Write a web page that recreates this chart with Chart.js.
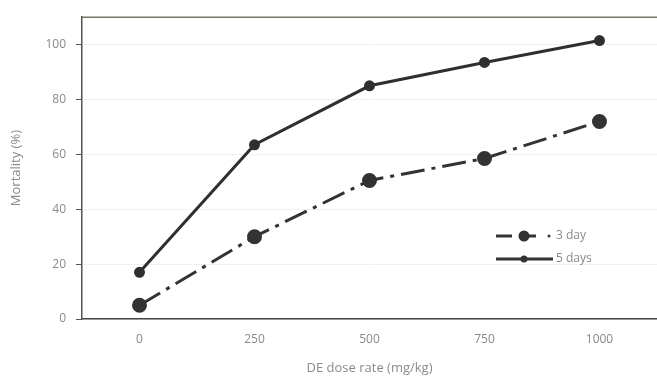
<!DOCTYPE html>
<html>
<head>
<meta charset="utf-8">
<script src="https://cdn.jsdelivr.net/npm/chart.js@4/dist/chart.umd.min.js"></script>
<style>
  html, body { margin: 0; padding: 0; background: #fff; }
  #wrap { width: 657px; height: 385px; }
</style>
</head>
<body>
<div id="wrap"><canvas id="mortChart" width="657" height="385"></canvas></div>
<script>
const doses = ["0", "250", "500", "750", "1000"];
const day3 = [5, 30, 50.5, 58.5, 72];
const day5 = [17, 63.5, 85, 93.5, 101.5];
const yTicks = [0, 20, 40, 60, 80, 100];

// top frame line + legend box drawn inside the plot
const framePlugin = {
  id: "frame",
  afterDraw(chart) {
    const ctx = chart.ctx;
    const a = chart.chartArea;
    ctx.save();
    ctx.strokeStyle = "#6f7a6a";
    ctx.lineWidth = 1.5;
    ctx.beginPath();
    ctx.moveTo(a.left, a.top);
    ctx.lineTo(a.right, a.top);
    ctx.stroke();

    // legend
    const lx = 496, ly = 236;
    ctx.strokeStyle = "#333";
    ctx.fillStyle = "#333";
    ctx.lineWidth = 3;
    ctx.beginPath();
    ctx.moveTo(lx, ly);
    ctx.lineTo(lx + 16, ly);
    ctx.stroke();
    ctx.beginPath();
    ctx.arc(lx + 28, ly, 5.5, 0, Math.PI * 2);
    ctx.fill();
    ctx.beginPath();
    ctx.moveTo(lx + 28, ly);
    ctx.lineTo(lx + 40, ly);
    ctx.stroke();
    ctx.beginPath();
    ctx.arc(lx + 53, ly, 1.5, 0, Math.PI * 2);
    ctx.fill();

    const ly2 = 259;
    ctx.beginPath();
    ctx.moveTo(lx, ly2);
    ctx.lineTo(lx + 57, ly2);
    ctx.stroke();
    ctx.beginPath();
    ctx.arc(lx + 28, ly2, 3.5, 0, Math.PI * 2);
    ctx.fill();

    ctx.fillStyle = "#8a8a8a";
    ctx.font = "12px 'Open Sans', sans-serif";
    ctx.textBaseline = "middle";
    ctx.fillText("3 day", lx + 60, ly);
    ctx.fillText("5 days", lx + 60, ly2);
    ctx.restore();
  }
};

new Chart(document.getElementById("mortChart"), {
  type: "line",
  data: {
    labels: doses,
    datasets: [
      {
        label: "3 day",
        data: day3,
        borderColor: "#333",
        backgroundColor: "#333",
        borderWidth: 3,
        borderDash: [24, 7, 4, 7],
        pointRadius: 6,
        pointHoverRadius: 6,
        tension: 0
      },
      {
        label: "5 days",
        data: day5,
        borderColor: "#2f2f2f",
        backgroundColor: "#2f2f2f",
        borderWidth: 3,
        pointRadius: 4,
        pointHoverRadius: 4,
        tension: 0
      }
    ]
  },
  options: {
    responsive: false,
    animation: false,
    layout: { autoPadding: false, padding: { top: 15, right: 0, left: 4, bottom: 0 } },
    plugins: {
      legend: { display: false },
      tooltip: { enabled: false }
    },
    scales: {
      x: {
        offset: true,
        grid: { display: false, drawTicks: false },
        border: { color: "#444", width: 1.5 },
        ticks: { color: "#8a8a8a", font: { family: "'Open Sans', sans-serif", size: 12 }, padding: 13 },
        title: {
          display: true,
          text: "DE dose rate (mg/kg)",
          color: "#8a8a8a",
          font: { family: "'Open Sans', sans-serif", size: 13 },
          padding: { top: 0, bottom: 9 }
        },
        afterFit(scale) {
          scale.height = 66;
          scale.paddingLeft = 0;
          scale.paddingRight = 0;
        }
      },
      y: {
        min: 0,
        max: 110,
        afterBuildTicks(scale) { scale.ticks = yTicks.map(v => ({ value: v })); },
        grid: { color: "rgba(0,0,0,0.06)", tickColor: "#555", tickLength: 6 },
        border: { color: "#555", width: 1.5 },
        ticks: { color: "#8a8a8a", font: { family: "'Open Sans', sans-serif", size: 12 }, padding: 10 },
        title: {
          display: true,
          text: "Mortality (%)",
          color: "#8a8a8a",
          font: { family: "'Open Sans', sans-serif", size: 13 },
          padding: { bottom: 0 }
        },
        afterFit(scale) { scale.width = 78; }
      }
    }
  },
  plugins: [framePlugin]
});
</script>
</body>
</html>
